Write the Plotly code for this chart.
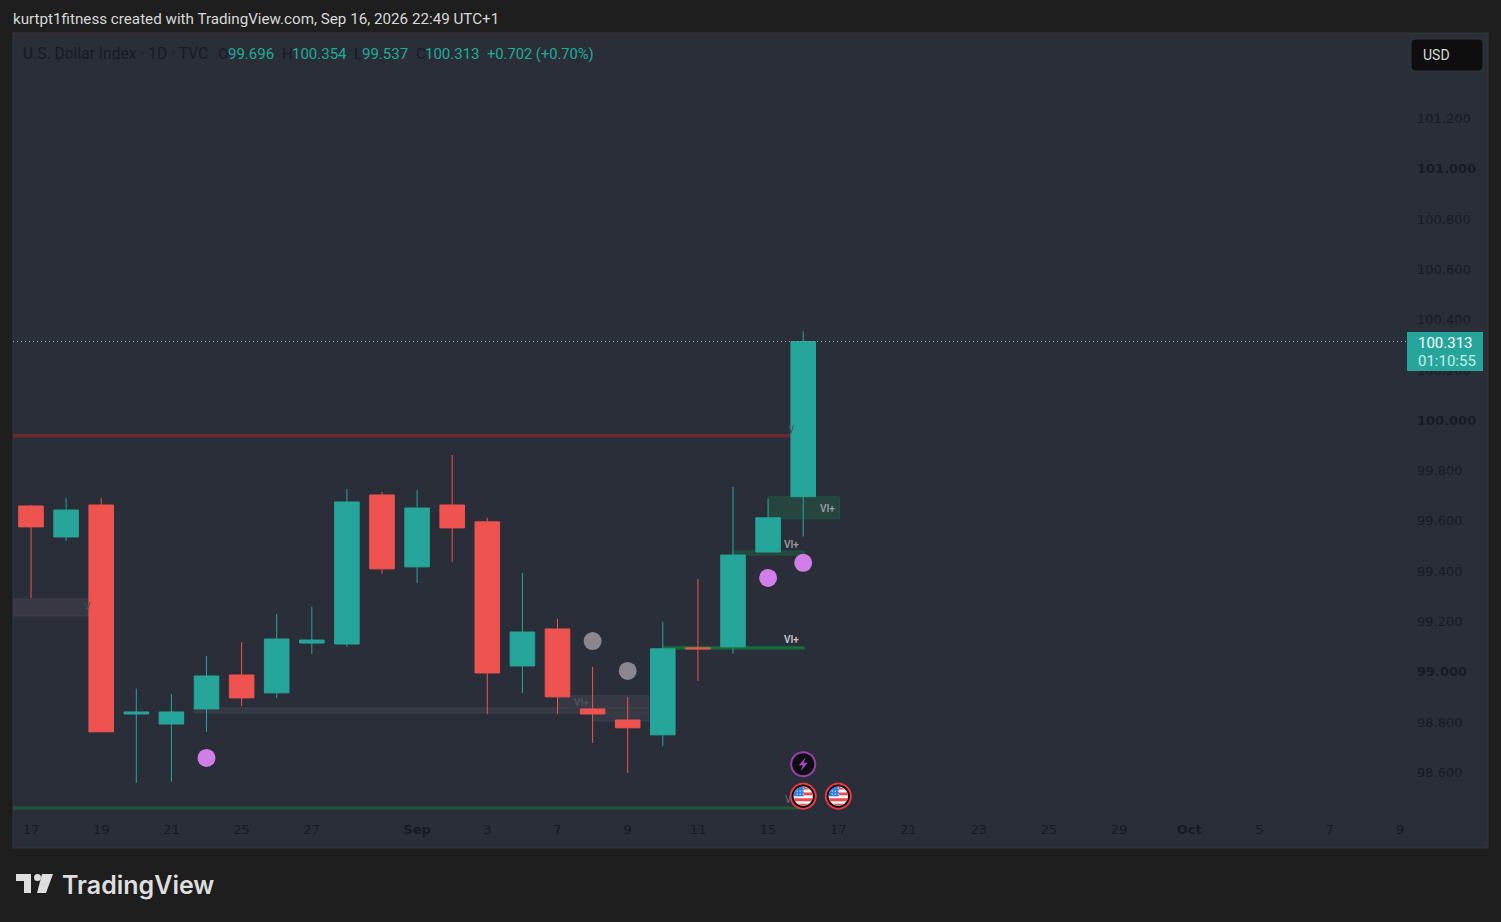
import math
import plotly.graph_objects as go

# ── Velas diarias ─────────────────────────────
bar_idx = list(range(23))
opens = [99.659, 99.536, 99.663, 98.832, 98.792, 98.852, 98.987, 98.916, 99.114, 99.110, 99.703, 99.417,
         99.663, 99.596, 99.023, 99.170, 98.852, 98.808, 98.749, 99.095, 99.099, 99.476, 99.696]
highs = [99.663, 99.691, 99.691, 98.932, 98.912, 99.063, 99.118, 99.230, 99.258, 99.727, 99.715, 99.723,
         99.862, 99.612, 99.393, 99.210, 99.019, 98.900, 99.198, 99.369, 99.735, 99.687, 100.354]
lows = [99.293, 99.520, 98.761, 98.558, 98.562, 98.761, 98.864, 98.896, 99.071, 99.099, 99.389, 99.353,
        99.437, 98.832, 98.916, 98.832, 98.717, 98.598, 98.705, 98.963, 99.071, 99.476, 99.537]
closes = [99.576, 99.643, 98.761, 98.840, 98.840, 98.983, 98.896, 99.130, 99.126, 99.675, 99.409, 99.651,
          99.572, 98.995, 99.158, 98.900, 98.832, 98.777, 99.091, 99.091, 99.464, 99.612, 100.313]

# ── Ejes ──────────────────────────────────────
x_tickvals = [0, 2, 4, 6, 8, 11, 13, 15, 17, 19, 21, 23, 25, 27, 29, 31, 33, 35, 37, 39]
x_ticktext = ['17', '19', '21', '25', '27', '<b>Sep</b>', '3', '7', '9', '11', '15', '17', '21', '23', '25',
              '29', '<b>Oct</b>', '5', '7', '9']
y_tickvals = [98.6, 98.8, 99.0, 99.2, 99.4, 99.6, 99.8, 100.0, 100.2, 100.4, 100.6, 100.8, 101.0, 101.2]
y_ticktext = ['98.600', '98.800', '<b>99.000</b>', '99.200', '99.400', '99.600', '99.800', '<b>100.000</b>',
              '100.200', '100.400', '100.600', '100.800', '<b>101.000</b>', '101.200']

# ── Puntos de señal ───────────────────────────
purple_x = [5, 21, 22]
purple_y = [98.657, 99.373, 99.433]
gray_x = [16, 17]
gray_y = [99.122, 99.003]

# ── Zonas (inicio, fin, precio bajo, precio alto) ─
gray_zone_x0 = [-0.52, 4.64, 15.0, 16.0]
gray_zone_x1 = [1.63, 17.6, 17.6, 17.6]
gray_zone_lo = [99.222, 98.836, 98.856, 98.804]
gray_zone_hi = [99.289, 98.856, 98.904, 98.832]
green_zone_x0 = [21.0, 20.0, 18.0]
green_zone_x1 = [23.03, 22.03, 22.03]
green_zone_lo = [99.608, 99.464, 99.089]
green_zone_hi = [99.695, 99.480, 99.101]
level_price_red = 99.938
level_price_green = 98.458
level_end_red = 21.62
level_end_green = 22.0
last_price = 100.313

# ── Textos VI+ ────────────────────────────────
vi_x = [22.68, 21.68, 21.68, 15.67]
vi_y = [99.651, 99.504, 99.130, 98.876]
icon_flag_x = [22, 23]
icon_y_flag = 98.505
icon_bolt_x = 22
icon_y_bolt = 98.632

BG = '#1e1e1e'
PANEL = '#2a2e39'
GREEN = '#26a69a'
RED = '#ef5350'
DARK = '#171b26'
L, T, W, H = 13, 33, 1475, 815


def px(x):
    return (x - L) / W


def py(y):
    return (T + H - y) / H


def nota(texto, x, y, color, size=14, anchor='left', family='Roboto', **kw):
    # las anotaciones traen unos 2px de relleno a la izquierda
    x_real = x - 2 if anchor == 'left' else x
    return dict(text=texto, x=px(x_real), y=py(y), xref='paper', yref='paper', showarrow=False,
                xanchor=anchor, yanchor='middle', font=dict(color=color, size=size, family=family, **kw))


def poly(pts):
    return 'M ' + ' L '.join(f'{a:.5f},{b:.5f}' for a, b in pts) + ' Z'


def circulo(r):
    return poly([(r * math.cos(k * math.pi / 20), r * math.sin(k * math.pi / 20)) for k in range(40)])


def paper_poly(pts):
    return poly([(px(a), py(b)) for a, b in pts])


fig = go.Figure()

fig.add_trace(go.Candlestick(
    x=bar_idx, open=opens, high=highs, low=lows, close=closes,
    increasing=dict(line=dict(color=GREEN, width=1), fillcolor=GREEN),
    decreasing=dict(line=dict(color=RED, width=1), fillcolor=RED),
    whiskerwidth=0, showlegend=False
))
fig.add_trace(go.Scatter(x=purple_x, y=purple_y, mode='markers', showlegend=False,
                         marker=dict(size=18, color='#d27ee8')))
fig.add_trace(go.Scatter(x=gray_x, y=gray_y, mode='markers', showlegend=False,
                         marker=dict(size=18, color='#8a8791')))

shapes = []
# borde del panel
shapes.append(dict(type='rect', xref='paper', yref='paper', x0=0, x1=1, y0=0, y1=1, layer='below',
                   line=dict(color='#363636', width=1)))
for x0, x1, lo, hi in zip(gray_zone_x0, gray_zone_x1, gray_zone_lo, gray_zone_hi):
    shapes.append(dict(type='rect', x0=x0, x1=x1, y0=lo, y1=hi, layer='below',
                       fillcolor='#363944', line=dict(color='#3e414c', width=1)))
for x0, x1, lo, hi in zip(green_zone_x0, green_zone_x1, green_zone_lo, green_zone_hi):
    shapes.append(dict(type='rect', x0=x0, x1=x1, y0=lo, y1=hi, layer='below',
                       fillcolor='#26453f', line=dict(color='#1c5a3f', width=1)))
shapes.append(dict(type='line', x0=18, x1=22.03, y0=99.095, y1=99.095, layer='below',
                   line=dict(color='#14703c', width=2)))
shapes.append(dict(type='line', x0=-0.52, x1=level_end_red, y0=level_price_red, y1=level_price_red, layer='below',
                   line=dict(color='#6a2a32', width=3.5)))
shapes.append(dict(type='line', x0=-0.52, x1=level_end_green, y0=level_price_green, y1=level_price_green, layer='below',
                   line=dict(color='#1f5a3e', width=3)))
# línea de último precio
shapes.append(dict(type='line', xref='paper', x0=0, x1=px(1407), y0=last_price, y1=last_price, layer='above',
                   line=dict(color='#8fb5b3', width=1, dash='1px,3px')))
# etiqueta de precio
shapes.append(dict(type='rect', xref='paper', yref='paper', x0=px(1407), x1=px(1483), y0=py(371), y1=py(332),
                   fillcolor=GREEN, line=dict(width=0), layer='above'))
# botón USD
x0, x1, y0, y1, r = 1411, 1483, 39, 71, 4
shapes.append(dict(type='path', xref='paper', yref='paper', layer='above', fillcolor='#0e0e0f',
                   line=dict(color='#333538', width=1),
                   path=(f'M {px(x0 + r)},{py(y0)} L {px(x1 - r)},{py(y0)} Q {px(x1)},{py(y0)} {px(x1)},{py(y0 + r)} '
                         f'L {px(x1)},{py(y1 - r)} Q {px(x1)},{py(y1)} {px(x1 - r)},{py(y1)} '
                         f'L {px(x0 + r)},{py(y1)} Q {px(x0)},{py(y1)} {px(x0)},{py(y1 - r)} '
                         f'L {px(x0)},{py(y0 + r)} Q {px(x0)},{py(y0)} {px(x0 + r)},{py(y0)} Z')))


def icono(xa, ya, path, color):
    shapes.append(dict(type='path', xref='x', yref='y', xsizemode='pixel', ysizemode='pixel', xanchor=xa, yanchor=ya,
                       path=path, fillcolor=color, line=dict(width=0), layer='above'))


# banderas de eventos
R = 9.6
for xa in icon_flag_x:
    icono(xa, icon_y_flag, circulo(13.5), '#f23645')
    icono(xa, icon_y_flag, circulo(11.6), '#0e0e10')
    icono(xa, icon_y_flag, circulo(R), '#f5f5f5')
    for top, bot in [(-9.6, -6.6), (-3.6, -1), (2, 5), (7.5, 9.6)]:
        pts = []
        for yy in (top, bot):
            half = math.sqrt(max(R * R - yy * yy, 0))
            pts.append((yy, half))
        icono(xa, icon_y_flag, poly([(-pts[0][1], -pts[0][0]), (pts[0][1], -pts[0][0]),
                                     (pts[1][1], -pts[1][0]), (-pts[1][1], -pts[1][0])]), '#f0484f')
    canton = [(0.5, 0), (-R, 0)] + [(R * math.cos(a * math.pi / 12), R * math.sin(a * math.pi / 12))
                                    for a in range(12, 5, -1)] + [(0.5, R)]
    icono(xa, icon_y_flag, poly(canton), '#2f7fe0')
    for cx in (-6, -3, 0):
        for cy in (2, 5, 8):
            if cx * cx + cy * cy < 70:
                icono(xa, icon_y_flag, poly([(cx - .6, cy - .6), (cx + .6, cy - .6), (cx + .6, cy + .6), (cx - .6, cy + .6)]),
                      '#cfe2f8')

# rayo
icono(icon_bolt_x, icon_y_bolt, circulo(13), '#9b3fb0')
icono(icon_bolt_x, icon_y_bolt, circulo(11), '#0e0e10')
icono(icon_bolt_x, icon_y_bolt, poly([(2.5, 7), (-4.5, -1), (-0.5, -1), (-2.5, -7), (4.5, 1.5), (0.5, 1.5)]), '#a845c4')

# logo
shapes.append(dict(type='path', xref='paper', yref='paper', fillcolor='#dedede', line=dict(width=0), layer='above',
                   path=paper_poly([(16, 874), (31, 874), (31, 893), (24, 893), (24, 881), (16, 881)])))
shapes.append(dict(type='path', xref='paper', yref='paper', fillcolor='#dedede', line=dict(width=0), layer='above',
                   path=paper_poly([(42, 874), (53, 874), (46, 893), (37, 893)])))
shapes.append(dict(type='circle', xref='paper', yref='paper', x0=px(34), x1=px(41), y0=py(881), y1=py(874),
                   fillcolor='#dedede', line=dict(width=0), layer='above'))

annotations = [
    nota('kurtpt1fitness created with TradingView.com, Sep 16, 2026 22:49 UTC+1', 13, 19, '#d8d8d8', 15.2),
    nota('USD', 1423, 55, '#d8d8d8', 14),
    nota('100.313', 1445, 343, '#ffffff', 15, anchor='center'),
    nota('01:10:55', 1447, 361, '#c4ece8', 15, anchor='center'),
    nota('TradingView', 62, 885, '#dedede', 25, family='Inter', weight=600),
    nota('V', 788, 430, '#4a4d58', 10),
    nota('V', 84, 606, '#4a4d58', 10),
    nota('V', 785, 799, '#6f727c', 10),
]
for txt, x_pos, col, fs in [('U.S. Dollar Index · 1D · TVC', 23, DARK, 15.6), ('O', 218, DARK, 15), ('99.696', 228, '#22ab94', 15),
                            ('H', 282, DARK, 15), ('100.354', 292, '#22ab94', 15), ('L', 354, DARK, 15), ('99.537', 362, '#22ab94', 15),
                            ('C', 416, DARK, 15), ('100.313', 425, '#22ab94', 15), ('+0.702 (+0.70%)', 487, '#22ab94', 14.7)]:
    annotations.append(nota(txt, x_pos, 54, col, fs))
for xv, yv, col in zip(vi_x, vi_y, ['#9a9ca3', '#9a9ca3', '#c9cacd', '#50535e']):
    annotations.append(dict(text='VI+', x=xv, y=yv, showarrow=False, font=dict(color=col, size=10, family='Roboto', weight=600)))

fig.update_layout(
    width=1501, height=922,
    paper_bgcolor=BG, plot_bgcolor=PANEL,
    margin=dict(l=L, r=1501 - L - W, t=T, b=922 - T - H, pad=0),
    showlegend=False, boxgap=0, hovermode=False,
    font=dict(family='Roboto', color=DARK),
    shapes=shapes, annotations=annotations,
    xaxis=dict(range=[-0.513, 41.51], rangeslider=dict(visible=False), showgrid=False, zeroline=False,
               tickmode='array', tickvals=x_tickvals, ticktext=x_ticktext, ticks='',
               ticklabelposition='inside', ticklabelstandoff=8, tickfont=dict(size=13, color=DARK, family='DejaVu Sans'),
               showline=False),
    yaxis=dict(range=[98.299, 101.540], side='right', anchor='free', position=px(1416), showgrid=False, zeroline=False,
               tickmode='array', tickvals=y_tickvals, ticktext=y_ticktext, ticks='',
               tickfont=dict(size=13, color=DARK, family='DejaVu Sans'), showline=False),
)

fig.write_html("out.html", config=dict(displayModeBar=False),
               post_script="document.body.style.margin='0';document.body.style.background='#1e1e1e';")
